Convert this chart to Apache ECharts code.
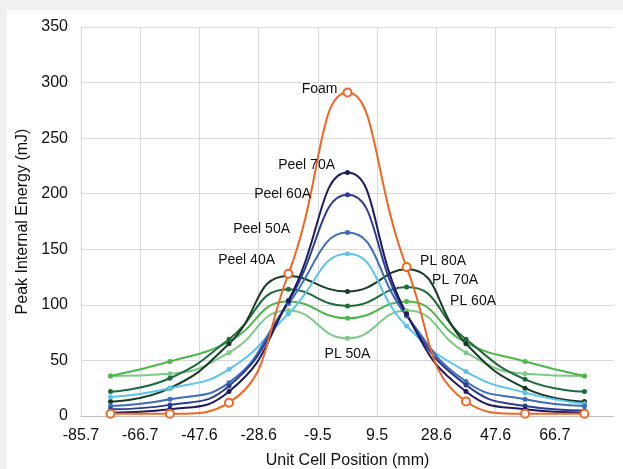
<!DOCTYPE html>
<html>

<head>
  <meta charset="utf-8" />
  <title>Peak Internal Energy</title>
</head>
<style type="text/css">
  body {
    margin: 0;
    background: #f0f0f0;
  }

  .panel {
    position: absolute;
    left: 7px;
    top: 10px;
    width: 616px;
    height: 459px;
    background: #fff;
  }

  #main {
    position: absolute;
    left: 0;
    top: 0;
    width: 623px;
    height: 469px;
  }
</style>

<body>
  <div class="panel"></div>
  <div id="main"></div>
  <script src="https://cdn.jsdelivr.net/npm/echarts@6/dist/echarts.min.js"></script>
  <script>
    // unit cell centres (mm) and the tick labels on the cell borders
    var positions = [-76.2, -57.1, -38.1, -19.0, 0, 19.0, 38.1, 57.1, 76.2];
    var tickLabels = ['-85.7', '-66.7', '-47.6', '-28.6', '-9.5', '9.5', '28.6', '47.6', '66.7', ''];

    var foam = [2, 2, 12, 128, 291, 134, 13, 2, 2];
    var peel70 = [3, 6, 22, 104, 219, 92, 22, 6, 3];
    var peel60 = [6, 10, 27, 103, 199, 91, 28, 9, 5];
    var peel50 = [9, 15, 30, 101, 165, 90, 31, 15, 9];
    var peel40 = [17, 25, 42, 92, 146, 81, 40, 21, 11];
    var pl80 = [13, 25, 65, 126, 112, 132, 65, 25, 13];
    var pl70 = [22, 34, 69, 114, 99, 116, 69, 33, 22];
    var pl60 = [36, 49, 67, 103, 88, 103, 66, 49, 36];
    var pl50 = [36, 38, 57, 95, 70, 95, 57, 38, 36];

    var xMin = -85.7;
    var cellWidth = 171.4 / 9;
    var font = 'Liberation Sans, Arial, sans-serif';

    var myChart = echarts.init(document.getElementById('main'));

    function makeSeries(name, values, color, lbl, open) {
      var data = values.map(function (v, i) {
        var item = { value: [(positions[i] - xMin) / cellWidth, v] };
        if (lbl && lbl.index === i) {
          item.label = {
            show: true,
            formatter: name,
            position: lbl.position,
            distance: lbl.distance || 5,
            offset: lbl.offset || [0, 0],
            color: '#111',
            fontSize: 14,
            fontFamily: font
          };
        }
        return item;
      });
      return {
        name: name,
        type: 'line',
        smooth: 0.5,
        data: data,
        symbol: open ? 'emptyCircle' : 'circle',
        symbolSize: open ? 8 : 5,
        lineStyle: { color: color, width: 2 },
        itemStyle: { color: color, borderWidth: open ? 1.3 : 0 },
        emphasis: { disabled: true },
        animation: false
      };
    }

    var option = {
      backgroundColor: 'transparent',
      grid: { left: 81, right: 9, top: 27, bottom: 53, outerBoundsMode: 'none' },
      xAxis: {
        type: 'value',
        min: 0,
        max: 9,
        interval: 1,
        name: 'Unit Cell Position (mm)',
        nameLocation: 'middle',
        nameGap: 37,
        nameTextStyle: { color: '#111', fontSize: 16, fontFamily: font },
        axisLine: { show: true, lineStyle: { color: '#bfbfbf', width: 1 } },
        axisTick: { show: false },
        axisLabel: {
          color: '#111',
          fontSize: 16,
          fontFamily: font,
          margin: 12,
          formatter: function (v) {
            return tickLabels[Math.round(v)];
          }
        },
        splitLine: { show: true, showMaxLine: false, lineStyle: { color: '#d9d9d9', width: 1 } }
      },
      yAxis: {
        type: 'value',
        min: 0,
        max: 350,
        interval: 50,
        name: 'Peak Internal Energy (mJ)',
        nameLocation: 'middle',
        nameGap: 43,
        nameTextStyle: { color: '#111', fontSize: 16, fontFamily: font },
        axisLine: { show: false },
        axisTick: { show: false },
        axisLabel: { color: '#111', fontSize: 16, fontFamily: font, margin: 13 },
        splitLine: { show: true, lineStyle: { color: '#d9d9d9', width: 1 } }
      },
      series: [
        makeSeries('PL 50A', pl50, '#7cc98a', { index: 4, position: 'bottom', offset: [0, 1] }),
        makeSeries('PL 60A', pl60, '#4cb748', { index: 5, position: 'right', offset: [36, 0] }),
        makeSeries('PL 70A', pl70, '#1e6b3b', { index: 5, position: 'right', offset: [18, -7] }),
        makeSeries('PL 80A', pl80, '#163d24', { index: 5, position: 'right', offset: [6, -8] }),
        makeSeries('Peel 40A', peel40, '#5cc3ef', { index: 4, position: 'left', distance: 70, offset: [0, 6] }),
        makeSeries('Peel 50A', peel50, '#3b6db9', { index: 4, position: 'left', distance: 55, offset: [0, -3] }),
        makeSeries('Peel 60A', peel60, '#2c3c91', { index: 4, position: 'left', distance: 34, offset: [0, -1] }),
        makeSeries('Peel 70A', peel70, '#1e1c5f', { index: 4, position: 'left', distance: 10, offset: [0, -7] }),
        makeSeries('Foam', foam, '#f26522', { index: 4, position: 'left', distance: 5, offset: [0, -3] }, true)
      ]
    };
    myChart.setOption(option);
  </script>
</body>

</html>
